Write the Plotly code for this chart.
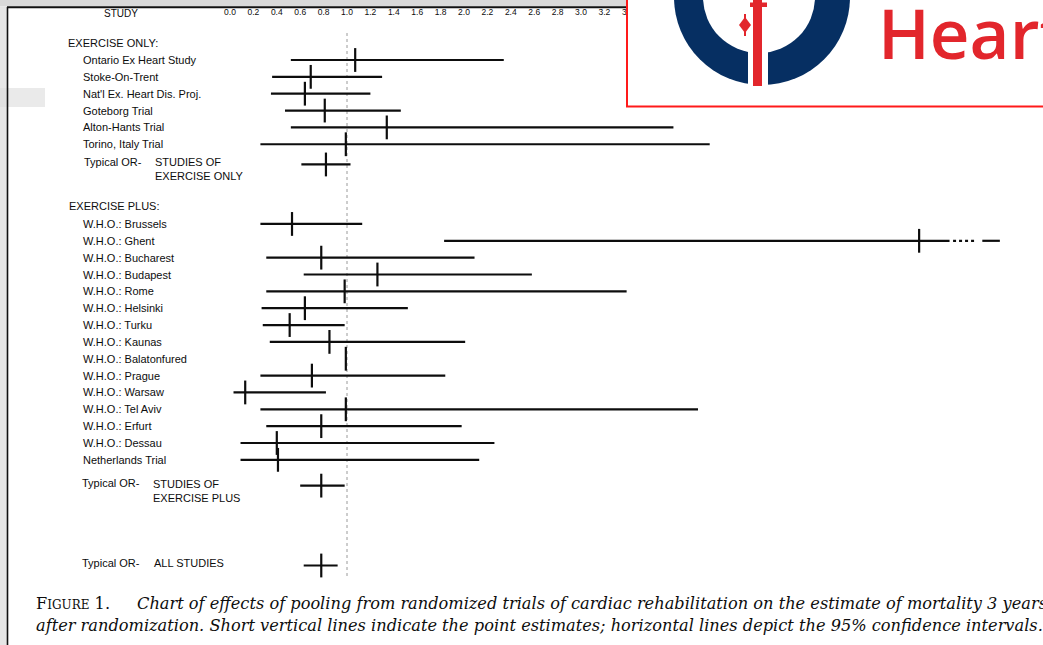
import plotly.graph_objects as go

# ---------------- data ----------------
eo_labels = ["Ontario Ex Heart Study", "Stoke-On-Trent", "Nat'l Ex. Heart Dis. Proj.",
             "Goteborg Trial", "Alton-Hants Trial", "Torino, Italy Trial"]
eo_or = [1.07, 0.69, 0.64, 0.81, 1.34, 0.99]
eo_lo = [0.52, 0.36, 0.35, 0.47, 0.52, 0.26]
eo_hi = [2.34, 1.30, 1.20, 1.46, 3.79, 4.10]

ep_labels = ["W.H.O.: Brussels", "W.H.O.: Ghent", "W.H.O.: Bucharest", "W.H.O.: Budapest",
             "W.H.O.: Rome", "W.H.O.: Helsinki", "W.H.O.: Turku", "W.H.O.: Kaunas",
             "W.H.O.: Balatonfured", "W.H.O.: Prague", "W.H.O.: Warsaw", "W.H.O.: Tel Aviv",
             "W.H.O.: Erfurt", "W.H.O.: Dessau", "Netherlands Trial"]
ep_or = [0.53, 5.89, 0.78, 1.26, 0.98, 0.64, 0.51, 0.85, 0.99, 0.70, 0.13, 0.99, 0.78, 0.40, 0.41]
ep_lo = [0.26, 1.83, 0.31, 0.63, 0.31, 0.27, 0.28, 0.34, 0.985, 0.26, 0.03, 0.26, 0.31, 0.09, 0.09]
ep_hi = [1.13, 6.15, 2.09, 2.58, 3.39, 1.52, 0.98, 2.01, 0.995, 1.84, 0.82, 4.00, 1.98, 2.26, 2.13]
ghent_dotted = [6.18, 6.37]   # off-scale continuation of the Ghent interval
ghent_dash = [6.43, 6.58]

pooled_names = ["STUDIES OF<br>EXERCISE ONLY", "STUDIES OF<br>EXERCISE PLUS", "ALL STUDIES"]
pooled_or = [0.82, 0.78, 0.78]
pooled_lo = [0.61, 0.60, 0.63]
pooled_hi = [1.03, 0.98, 0.92]

tick_vals = [0.0, 0.2, 0.4, 0.6, 0.8, 1.0, 1.2, 1.4, 1.6, 1.8, 2.0, 2.2, 2.4, 2.6, 2.8, 3.0, 3.2, 3.4]
tick_text = ["0.0", "0.2", "0.4", "0.6", "0.8", "1.0", "1.2", "1.4", "1.6", "1.8",
             "2.0", "2.2", "2.4", "2.6", "2.8", "3.0", "3.2", "3.4"]

caption_1 = ("<i>Chart of effects of pooling from randomized trials of cardiac rehabilitation "
             "on the estimate of mortality 3 years</i>")
caption_2 = ("<i>after randomization. Short vertical lines indicate the point estimates; "
             "horizontal lines depict the 95% confidence intervals.</i>")

# ---------------- layout helpers ----------------
W, H = 1043, 645
X0PX, PXU = 230.0, 117.0          # pixel of value 0 and pixels per unit
Y0PX, PXR = 60.0, 16.85           # pixel of row slot 0 and pixels per row

def X(p):
    return p / W

def Yp(p):
    return 1 - p / H

eo_slots = [float(i) for i in range(len(eo_labels))]
ep_slots = [9.73 + i for i in range(len(ep_labels))]
pooled_slots = [6.2, 25.26, 30.0]

FONT = "Liberation Sans, Arial, sans-serif"
INK = "#0d0d0d"
SERIF = "DejaVu Serif, serif"

fig = go.Figure()

def add_group(xs, lo, hi, ys):
    fig.add_trace(go.Scatter(
        x=xs, y=ys, mode="markers",
        marker=dict(symbol="line-ns", size=17, line=dict(width=2.2, color=INK), color=INK),
        error_x=dict(type="data", symmetric=False,
                     array=[h - x for h, x in zip(hi, xs)],
                     arrayminus=[x - l for x, l in zip(xs, lo)],
                     thickness=2.2, width=0, color=INK),
        showlegend=False, hoverinfo="skip"))

add_group(eo_or, eo_lo, eo_hi, eo_slots)
add_group(ep_or, ep_lo, ep_hi, ep_slots)
add_group(pooled_or, pooled_lo, pooled_hi, pooled_slots)

gy = ep_slots[ep_labels.index("W.H.O.: Ghent")]
fig.add_trace(go.Scatter(x=ghent_dotted, y=[gy, gy], mode="lines",
                         line=dict(color=INK, width=2.2, dash="dot"),
                         showlegend=False, hoverinfo="skip"))
fig.add_trace(go.Scatter(x=ghent_dash, y=[gy, gy], mode="lines",
                         line=dict(color=INK, width=2.2),
                         showlegend=False, hoverinfo="skip"))

ann = []
def label(text, xpx, slot, size=11, **kw):
    ann.append(dict(text=text, x=X(xpx), xref="paper", y=slot, yref="y",
                    xanchor="left", yanchor="middle", showarrow=False,
                    font=dict(family=FONT, size=size, color=INK), align="left", **kw))

label("EXERCISE ONLY:", 66, -1.01)
for t, s in zip(eo_labels, eo_slots):
    label(t, 81, s)
label("EXERCISE PLUS:", 67, 8.65)
for t, s in zip(ep_labels, ep_slots):
    label(t, 81, s)

typ_label_px = [82, 80, 80]
name_px = [153, 151, 152]
for nm, s, tp, npx in zip(pooled_names, pooled_slots, typ_label_px, name_px):
    first = s - 0.15
    label("Typical OR-", tp, first)
    ann.append(dict(text=nm, x=X(npx), xref="paper", y=first - 0.45, yref="y",
                    xanchor="left", yanchor="top", showarrow=False, align="left",
                    font=dict(family=FONT, size=11, color=INK)))

ann.append(dict(text="STUDY", x=X(121), xref="paper", y=Yp(14), yref="paper",
                xanchor="center", yanchor="middle", showarrow=False,
                font=dict(family=FONT, size=10, color=INK)))

# caption
ann.append(dict(text="F<span style='font-size:12px'>IGURE</span> 1.", x=X(34), xref="paper",
                y=Yp(603), yref="paper", xanchor="left", yanchor="middle", showarrow=False,
                font=dict(family=SERIF, size=16.2, color=INK)))
ann.append(dict(text=caption_1, x=X(135), xref="paper",
                y=Yp(603), yref="paper", xanchor="left", yanchor="middle", showarrow=False,
                font=dict(family=SERIF, size=16.2, color=INK)))
ann.append(dict(text=caption_2, x=X(34), xref="paper",
                y=Yp(625), yref="paper", xanchor="left", yanchor="middle", showarrow=False,
                font=dict(family=SERIF, size=16.2, color=INK)))

# logo text
ann.append(dict(text="Heart", x=X(876), xref="paper", y=Yp(32), yref="paper",
                xanchor="left", yanchor="middle", showarrow=False,
                font=dict(family="Open Sans, Noto Sans, sans-serif", size=69,
                          color="#e2262c", weight=600)))

RED = "#e2262c"
NAVY = "#062f62"
shapes = [
    # grey strip at top and frame lines (drawn in pixel-based axis coordinates)
    dict(type="rect", xref="x2", yref="y2", x0=0, x1=627, y0=0, y1=6.5,
         fillcolor="#d9d9d9", line=dict(width=0)),
    dict(type="rect", xref="x2", yref="y2", x0=0, x1=7, y0=6.5, y1=645,
         fillcolor="#e6e6e6", line=dict(width=0)),
    dict(type="rect", xref="x2", yref="y2", x0=0, x1=45, y0=88, y1=107,
         fillcolor="#dcdcdc", line=dict(width=0), opacity=0.6),
    dict(type="rect", xref="x2", yref="y2", x0=7, x1=627, y0=6.3, y1=8.3,
         fillcolor="#111111", line=dict(width=0)),
    dict(type="rect", xref="x2", yref="y2", x0=6.7, x1=8.3, y0=7, y1=645,
         fillcolor="#111111", line=dict(width=0)),
    # reference line at OR = 1
    dict(type="line", xref="x", yref="y2", x0=1.0, x1=1.0, y0=33, y1=578,
         line=dict(color="#9a9a9a", width=1, dash="dot"), layer="below"),
    # logo box
    dict(type="rect", xref="x2", yref="y2", x0=627, x1=1050, y0=-5, y1=106.5,
         fillcolor="white", line=dict(color="#ff1a1a", width=2)),
    dict(type="circle", xref="x2", yref="y2", x0=674, x1=850, y0=-91, y1=85,
         fillcolor=NAVY, line=dict(width=0)),
    dict(type="circle", xref="x2", yref="y2", x0=703, x1=815, y0=-59, y1=53,
         fillcolor="white", line=dict(width=0)),
    dict(type="rect", xref="x2", yref="y2", x0=748, x1=768, y0=40, y1=90,
         fillcolor="white", line=dict(width=0)),
    dict(type="rect", xref="x2", yref="y2", x0=753, x1=762, y0=-2, y1=86,
         fillcolor=RED, line=dict(width=0)),
    dict(type="rect", xref="x2", yref="y2", x0=750, x1=767, y0=2.5, y1=7,
         fillcolor=RED, line=dict(width=0)),
    dict(type="path", xref="x2", yref="y2",
         path="M 745,17 L 751,25 L 745,33 L 739,25 Z",
         fillcolor=RED, line=dict(width=0)),
    dict(type="line", xref="x2", yref="y2", x0=745, x1=745, y0=14, y1=36,
         line=dict(color=RED, width=2)),
]

fig.update_layout(
    width=W, height=H, margin=dict(l=0, r=0, t=0, b=0),
    paper_bgcolor="white", plot_bgcolor="white",
    xaxis=dict(range=[-X0PX / PXU, (W - X0PX) / PXU], side="top",
               tickvals=tick_vals, ticktext=tick_text, ticks="",
               ticklabelposition="inside", ticklabelstandoff=6,
               tickfont=dict(family=FONT, size=8.5, color=INK),
               showgrid=False, zeroline=False, showline=False, fixedrange=True),
    yaxis=dict(range=[(H - Y0PX) / PXR, -Y0PX / PXR], visible=False,
               showgrid=False, zeroline=False, fixedrange=True),
    xaxis2=dict(range=[0, W], overlaying="x", visible=False, fixedrange=True),
    yaxis2=dict(range=[H, 0], overlaying="y", visible=False, fixedrange=True),
    annotations=ann, shapes=shapes, showlegend=False,
)

fig.write_html("out.html", config={"displayModeBar": False},
               post_script="document.body.style.margin='0';document.body.style.overflow='hidden';")
